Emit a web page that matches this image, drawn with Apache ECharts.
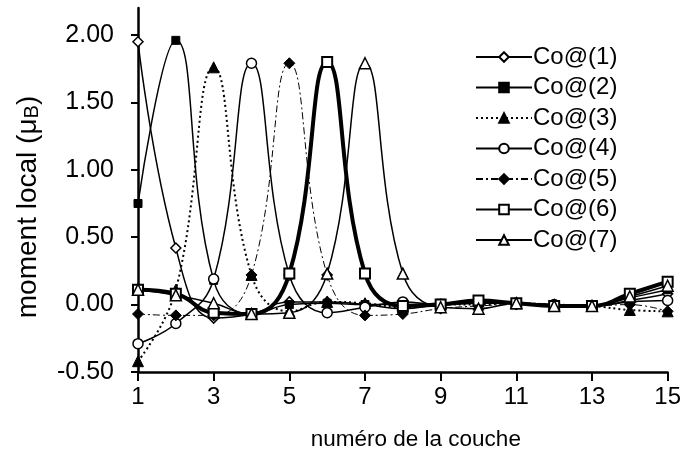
<!DOCTYPE html>
<html>
<head>
<meta charset="utf-8">
<script src="https://cdn.jsdelivr.net/npm/echarts@6/dist/echarts.min.js"></script>
<style>html,body{margin:0;padding:0;background:#fff}#c{width:684px;height:459px}</style>
</head>
<body>
<div id="c"></div>
<script>
const layers = [1,2,3,4,5,6,7,8,9,10,11,12,13,14,15];
const seriesNames = ['Co@(1)','Co@(2)','Co@(3)','Co@(4)','Co@(5)','Co@(6)','Co@(7)'];
const co1 = [1.95, 0.42, -0.10, -0.07, 0.02, 0.02, 0.00, -0.03, 0.00, 0.01, 0.01, 0.00, -0.01, 0.03, 0.08];
const co2 = [0.75, 1.96, 0.18, -0.07, 0.00, 0.01, 0.00, 0.00, 0.01, 0.02, 0.01, 0.00, -0.01, 0.05, 0.11];
const co3 = [-0.42, 0.11, 1.76, 0.22, -0.05, 0.02, 0.01, -0.02, 0.00, 0.00, 0.01, 0.00, -0.01, -0.04, -0.05];
const co4 = [-0.29, -0.14, 0.19, 1.79, 0.22, -0.06, -0.02, 0.02, 0.00, 0.01, 0.01, 0.00, -0.01, 0.02, 0.03];
const co5 = [-0.07, -0.08, -0.08, 0.22, 1.79, 0.22, -0.08, -0.07, -0.03, -0.01, 0.00, -0.01, -0.01, 0.00, -0.05];
const co6 = [0.11, 0.08, -0.06, -0.07, 0.23, 1.80, 0.23, -0.01, 0.00, 0.03, 0.01, -0.01, -0.01, 0.08, 0.17];
const co7 = [0.11, 0.07, 0.01, -0.07, -0.06, 0.23, 1.79, 0.23, -0.02, -0.03, 0.01, -0.01, -0.01, 0.06, 0.14];
const yTicks = [-0.5, 0, 0.5, 1.0, 1.5, 2.0];

const values = [co1, co2, co3, co4, co5, co6, co7];
const styles = [
  {symbol:'diamond', size:10, fill:'#fff', width:1.5, type:'solid', bw:1.5},
  {symbol:'rect', size:8, fill:'#000', width:1.5, type:'solid', bw:1},
  {symbol:'triangle', size:11, fill:'#000', width:2, type:[2,3], bw:1},
  {symbol:'circle', size:10, fill:'#fff', width:1.5, type:'solid', bw:1.5},
  {symbol:'diamond', size:11, fill:'#000', width:1, type:[7,3,2,3], bw:1},
  {symbol:'rect', size:10, fill:'#fff', width:4, type:'solid', bw:2},
  {symbol:'triangle', size:11, fill:'#fff', width:1.5, type:'solid', bw:1.5}
];

const chart = echarts.init(document.getElementById('c'), null, {renderer:'canvas'});
const font = 'Liberation Sans, Arial, sans-serif';
chart.setOption({
  animation: false,
  backgroundColor: '#fff',
  textStyle: {fontFamily: font, color:'#000'},
  grid: {left: 138, right: 14, top: 8, bottom: 87, containLabel: false},
  legend: {
    orient: 'vertical', left: 470, top: 40,
    itemWidth: 56, itemHeight: 12, itemGap: 6.5,
    textStyle: {fontSize: 24, lineHeight: 24, color:'#000', fontFamily: font, padding:[0,0,0,-4]},
    data: seriesNames
  },
  xAxis: {
    type: 'value', min: 1, max: 15, interval: 2,
    name: 'numéro de la couche', nameLocation: 'middle', nameGap: 56,
    nameTextStyle: {fontSize: 22.5, color:'#000', fontFamily: font, padding:[0,0,0,26]},
    axisLine: {onZero: false, lineStyle: {color:'#000', width: 2.5}},
    axisTick: {show: true, inside: false, length: 9, lineStyle: {color:'#000', width: 2}},
    axisLabel: {fontSize: 24, color:'#000', margin: 13, fontFamily: font},
    splitLine: {show: false}
  },
  yAxis: {
    type: 'value', min: -0.5, max: 2.2, interval: 0.5,
    name: '{n|moment local (μ}{s|B}{n|)}', nameLocation: 'middle', nameGap: 96,
    nameTextStyle: {fontFamily: font, color:'#000', padding:[0,34,0,0],
      rich: {n:{fontSize:28, lineHeight:28, fontFamily: font, color:'#000'},
             s:{fontSize:20, lineHeight:15, verticalAlign:'bottom', fontFamily: font, color:'#000'}}},
    axisLine: {show: true, lineStyle: {color:'#000', width: 2.5}},
    axisTick: {show: true, inside: false, length: 7, lineStyle: {color:'#000', width: 2}, customValues: yTicks},
    axisLabel: {fontSize: 25, color:'#000', margin: 24, fontFamily: font, customValues: yTicks,
      formatter: v => v.toFixed(2)},
    splitLine: {show: false}
  },
  series: values.map((vals, i) => ({
    name: seriesNames[i],
    type: 'line',
    smooth: 0.45,
    data: layers.map((l, k) => [l, vals[k]]),
    symbol: styles[i].symbol,
    symbolSize: styles[i].size,
    showAllSymbol: true,
    color: '#000',
    lineStyle: {color:'#000', width: styles[i].width, type: styles[i].type},
    itemStyle: {color: styles[i].fill, borderColor:'#000', borderWidth: styles[i].bw, opacity: 1},
    emphasis: {disabled: true}
  }))
});
</script>
</body>
</html>
